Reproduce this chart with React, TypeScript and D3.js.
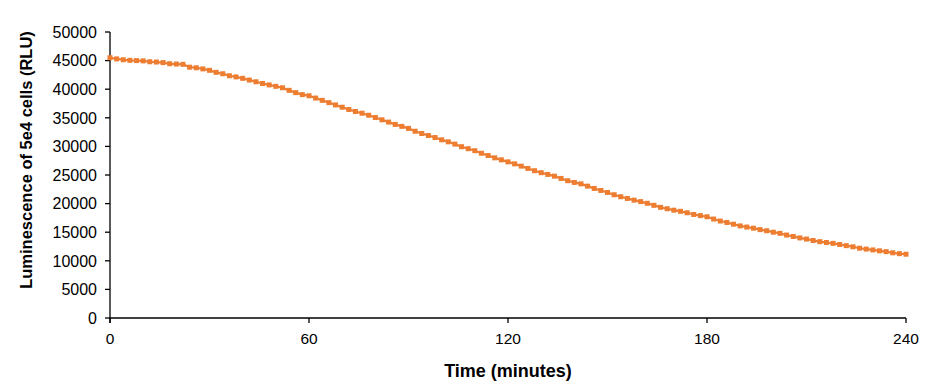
import React from "react";
import * as d3 from "d3";

const times: number[] = d3.range(0, 242, 2);
const luminescence: number[] = [
  45500, 45300, 45150, 45050, 45000, 44950, 44800, 44750, 44650, 44450,
  44400, 44350, 43850, 43750, 43550, 43300, 42950, 42700, 42350, 42150,
  41900, 41600, 41300, 41000, 40750, 40500, 40250, 39800, 39400, 39050,
  38850, 38450, 38050, 37650, 37250, 36850, 36450, 36100, 35800, 35450,
  35050, 34650, 34250, 33850, 33500, 33150, 32650, 32250, 31900, 31550,
  31150, 30800, 30400, 29950, 29600, 29250, 28800, 28400, 28000, 27650,
  27300, 26950, 26550, 26150, 25750, 25400, 25100, 24800, 24400, 24000,
  23700, 23450, 23050, 22650, 22300, 21950, 21550, 21200, 20900, 20600,
  20350, 20050, 19700, 19350, 19100, 18850, 18650, 18400, 18100, 17900,
  17700, 17300, 16950, 16700, 16400, 16100, 15900, 15700, 15450, 15250,
  15000, 14800, 14500, 14250, 14000, 13800, 13550, 13350, 13200, 13050,
  12850, 12650, 12450, 12200, 12050, 11900, 11750, 11600, 11400, 11250,
  11150,
];
const xTicks: number[] = [0, 60, 120, 180, 240];
const yTicks: number[] = d3.range(0, 50001, 5000);
const xTitle = "Time (minutes)";
const yTitle = "Luminescence of 5e4 cells (RLU)";

const W = 947;
const H = 390;
const M = { left: 110, right: 41, top: 32, bottom: 72 };
const COLOR = "#ED7D31";
const FONT = "Arial, 'Liberation Sans', sans-serif";

export default function App() {
  const x = d3.scaleLinear().domain([0, 240]).range([M.left, W - M.right]);
  const y = d3.scaleLinear().domain([0, 50000]).range([H - M.bottom, M.top]);
  const data = times.map((t, i) => ({ t, v: luminescence[i] }));
  const line = d3
    .line<{ t: number; v: number }>()
    .x((d) => x(d.t))
    .y((d) => y(d.v));
  const x0 = x(0);
  const y0 = y(0);
  return (
    <svg
      width={W}
      height={H}
      style={{ position: "fixed", left: 0, top: 0, background: "#fff" }}
      fontFamily={FONT}
    >
      <rect width={W} height={H} fill="#fff" />
      {/* y axis */}
      <line x1={x0} x2={x0} y1={y(50000)} y2={y0 + 5} stroke="#000" strokeWidth={1.3} />
      {yTicks.map((v) => (
        <g key={v}>
          <line x1={x0 - 5} x2={x0} y1={y(v)} y2={y(v)} stroke="#000" strokeWidth={1.3} />
          <text x={x0 - 13} y={y(v)} dy="0.36em" textAnchor="end" fontSize={16} fill="#000">
            {v}
          </text>
        </g>
      ))}
      {/* x axis */}
      <line x1={x0} x2={x(240)} y1={y0} y2={y0} stroke="#000" strokeWidth={1.3} />
      {xTicks.map((t) => (
        <g key={t}>
          <line x1={x(t)} x2={x(t)} y1={y0} y2={y0 + 5} stroke="#000" strokeWidth={1.3} />
          <text x={x(t)} y={y0 + 26} textAnchor="middle" fontSize={15.5} fill="#000">
            {t}
          </text>
        </g>
      ))}
      {/* series */}
      <path d={line(data) || ""} fill="none" stroke={COLOR} strokeWidth={2.2} />
      {data.map((d) => (
        <rect
          key={d.t}
          x={x(d.t) - 2.5}
          y={y(d.v) - 2.5}
          width={5}
          height={5}
          fill={COLOR}
        />
      ))}
      {/* titles */}
      <text
        x={(x0 + x(240)) / 2}
        y={377}
        textAnchor="middle"
        fontSize={18}
        fontWeight="bold"
        fill="#000"
      >
        {xTitle}
      </text>
      <text
        transform={`translate(32, 160) rotate(-90)`}
        textAnchor="middle"
        fontSize={16.5}
        fontWeight="bold"
        fill="#000"
      >
        {yTitle}
      </text>
    </svg>
  );
}
